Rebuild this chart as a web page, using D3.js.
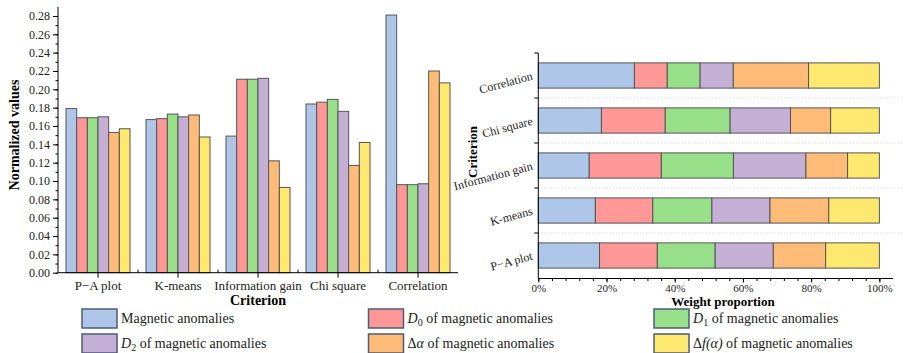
<!DOCTYPE html>
<html>
<head>
<meta charset="utf-8">
<script src="https://cdn.jsdelivr.net/npm/d3@7"></script>
<style>
  body { margin: 0; background: #fff; }
  svg { display: block; font-family: "Liberation Serif", "DejaVu Serif", serif; }
  svg text { font-family: "Liberation Serif", "DejaVu Serif", serif; }
</style>
</head>
<body>
<svg id="chart" width="904" height="353"></svg>
<script>
// data
var criteria = ["P\u2212A plot", "K-means", "Information gain", "Chi square", "Correlation"];
var magnetic = [0.179, 0.167, 0.149, 0.184, 0.281];
var d0       = [0.169, 0.168, 0.211, 0.186, 0.096];
var d1       = [0.169, 0.173, 0.211, 0.189, 0.096];
var d2       = [0.170, 0.170, 0.212, 0.176, 0.097];
var dAlpha   = [0.153, 0.172, 0.122, 0.117, 0.220];
var dfAlpha  = [0.157, 0.148, 0.093, 0.142, 0.207];
var yTicks = [0, 0.02, 0.04, 0.06, 0.08, 0.10, 0.12, 0.14, 0.16, 0.18, 0.20, 0.22, 0.24, 0.26, 0.28];
var pctTicks = [0, 0.2, 0.4, 0.6, 0.8, 1.0];

var seriesKeys = ["mag", "d0", "d1", "d2", "da", "dfa"];
var seriesVals = [magnetic, d0, d1, d2, dAlpha, dfAlpha];
var colours = ["#aec7e8", "#ff9896", "#98df8a", "#c5b0d5", "#ffbb78", "#fde96f"];

var rows = criteria.map(function (c, i) {
    var r = { crit: c };
    seriesKeys.forEach(function (k, j) { r[k] = seriesVals[j][i]; });
    return r;
});

var svg = d3.select("#chart");
var stroke = "#555";
var serif = "'Liberation Serif', 'DejaVu Serif', serif";

//
//**   Left: grouped bars   **/
//

var x0 = d3.scaleBand().domain(criteria).range([58, 458]).paddingInner(0.2).paddingOuter(0.1);
var x1 = d3.scaleBand().domain(seriesKeys).range([0, x0.bandwidth()]);
var y = d3.scaleLinear().domain([0, 0.29]).range([272.7, 6.8]);

var left = svg.append("g");

left.selectAll("g.grp")
    .data(rows)
  .enter().append("g")
    .attr("class", "grp")
    .attr("transform", function (d) { return "translate(" + x0(d.crit) + ",0)"; })
  .selectAll("rect")
    .data(function (d) { return seriesKeys.map(function (k, j) { return { k: k, v: d[k], c: colours[j] }; }); })
  .enter().append("rect")
    .attr("x", function (d) { return x1(d.k); })
    .attr("width", x1.bandwidth())
    .attr("y", function (d) { return y(d.v); })
    .attr("height", function (d) { return y(0) - y(d.v); })
    .attr("fill", function (d) { return d.c; })
    .attr("stroke", stroke)
    .attr("stroke-width", 1);

// y axis with minor ticks
var yMinor = d3.range(0, 0.29, 0.01);
left.append("g")
    .attr("transform", "translate(58,0)")
    .call(d3.axisLeft(y).tickValues(yMinor).tickSize(2.5).tickFormat(""))
    .call(function (g) { g.select(".domain").remove(); });

var gY = left.append("g")
    .attr("transform", "translate(58,0)")
    .call(d3.axisLeft(y).tickValues(yTicks).tickSize(5).tickPadding(3).tickFormat(d3.format(".2f")))
    .attr("font-family", serif);
gY.selectAll("text").style("font-size", "12px").style("fill", "#222");
gY.select(".domain").attr("d", "M0," + y(0.29) + "V" + y(0));

// x axis
var gX = left.append("g")
    .attr("transform", "translate(0," + y(0) + ")")
    .call(d3.axisBottom(x0).tickSize(5).tickPadding(3))
    .attr("font-family", serif);
gX.selectAll("text").style("font-size", "13px").style("fill", "#222");
gX.select(".domain").attr("d", "M58,0H458");

var bounds = criteria.slice(1).map(function (c) { return x0(c) - x0.step() * x0.paddingInner() / 2; });
left.selectAll("line.minor")
    .data(bounds)
  .enter().append("line")
    .attr("class", "minor")
    .attr("x1", function (d) { return d; })
    .attr("x2", function (d) { return d; })
    .attr("y1", y(0) - 3)
    .attr("y2", y(0))
    .attr("stroke", "#000");

left.append("text")
    .attr("transform", "translate(19,135) rotate(-90)")
    .style("text-anchor", "middle")
    .style("font-size", "14px")
    .style("font-weight", "bold")
    .text("Normalized values");

left.append("text")
    .attr("x", 258)
    .attr("y", 305)
    .style("text-anchor", "middle")
    .style("font-size", "14px")
    .style("font-weight", "bold")
    .text("Criterion");

//
//**   Right: stacked proportions   **/
//

var stacked = d3.stack().keys(seriesKeys).offset(d3.stackOffsetExpand)(rows);

var px = d3.scaleLinear().domain([0, 1.04]).range([538.3, 893]);
var py = d3.scaleBand().domain(criteria.slice().reverse()).range([53, 278]).paddingInner(0.44).paddingOuter(0.22);

var right = svg.append("g");

// dotted separators
var seps = criteria.slice(0, 4).map(function (c) { return py(c) - py.step() * py.paddingInner() / 2; });
right.selectAll("line.sep")
    .data(seps)
  .enter().append("line")
    .attr("class", "sep")
    .attr("x1", 538.3).attr("x2", 904)
    .attr("y1", function (d) { return d; })
    .attr("y2", function (d) { return d; })
    .attr("stroke", "#ccc")
    .attr("stroke-dasharray", "1,2");

right.selectAll("g.layer")
    .data(stacked)
  .enter().append("g")
    .attr("class", "layer")
    .attr("fill", function (d, i) { return colours[i]; })
  .selectAll("rect")
    .data(function (d) { return d; })
  .enter().append("rect")
    .attr("x", function (d) { return px(d[0]); })
    .attr("width", function (d) { return px(d[1]) - px(d[0]); })
    .attr("y", function (d) { return py(d.data.crit); })
    .attr("height", py.bandwidth())
    .attr("stroke", stroke)
    .attr("stroke-width", 1);

// x axis
right.append("g")
    .attr("transform", "translate(0,278.5)")
    .call(d3.axisBottom(px).tickValues(d3.range(0, 1.04, 0.04)).tickSize(2.5).tickFormat(""))
    .call(function (g) { g.select(".domain").remove(); });

var gPX = right.append("g")
    .attr("transform", "translate(0,278.5)")
    .call(d3.axisBottom(px).tickValues(pctTicks).tickSize(4).tickPadding(2).tickFormat(d3.format(".0%")))
    .attr("font-family", serif);
gPX.selectAll("text").style("font-size", "11px").style("fill", "#222");
gPX.select(".domain").attr("d", "M538.3,0H893");

// y axis
var gPY = right.append("g").attr("transform", "translate(538.3,0)");
gPY.append("line")
    .attr("x1", 0).attr("x2", 0)
    .attr("y1", 53).attr("y2", 278.5)
    .attr("stroke", "#000");
gPY.selectAll("line.tk")
    .data([53].concat(seps))
  .enter().append("line")
    .attr("class", "tk")
    .attr("x1", -4).attr("x2", 0)
    .attr("y1", function (d) { return d; })
    .attr("y2", function (d) { return d; })
    .attr("stroke", "#000");
gPY.selectAll("text")
    .data(criteria)
  .enter().append("text")
    .attr("transform", function (d) { return "translate(-5," + (py(d) + py.bandwidth() / 2 + 4) + ") rotate(-15)"; })
    .style("text-anchor", "end")
    .style("font-size", "12px")
    .style("fill", "#222")
    .text(function (d) { return d; });

right.append("text")
    .attr("transform", "translate(477,152) rotate(-90)")
    .style("text-anchor", "middle")
    .style("font-size", "13px")
    .style("font-weight", "bold")
    .text("Criterion");

right.append("text")
    .attr("x", 723)
    .attr("y", 306)
    .style("text-anchor", "middle")
    .style("font-size", "13px")
    .style("font-weight", "bold")
    .text("Weight proportion");

//
//**   Legend   **/
//

var legendItems = [
    { base: "Magnetic anomalies" },
    { sym: "D", sub: "0", rest: " of magnetic anomalies" },
    { sym: "D", sub: "1", rest: " of magnetic anomalies" },
    { sym: "D", sub: "2", rest: " of magnetic anomalies" },
    { delta: true, sym: "\u03b1", rest: " of magnetic anomalies" },
    { delta: true, sym: "f(\u03b1)", rest: " of magnetic anomalies" }
];
var colX = [82, 368.5, 654];
var rowY = [309, 334];

var leg = svg.append("g")
    .attr("font-family", serif)
    .selectAll("g")
    .data(legendItems)
  .enter().append("g")
    .attr("transform", function (d, i) { return "translate(" + colX[i % 3] + "," + rowY[Math.floor(i / 3)] + ")"; });

leg.append("rect")
    .attr("width", 35)
    .attr("height", 19)
    .attr("fill", function (d, i) { return colours[i]; })
    .attr("stroke", "#4d5b78")
    .attr("stroke-width", 1.5);

leg.append("text")
    .attr("x", 39)
    .attr("y", 14)
    .style("font-size", "14px")
    .style("fill", "#222")
    .each(function (d) {
        var t = d3.select(this);
        if (d.base) { t.text(d.base); return; }
        if (d.delta) t.append("tspan").text("\u0394");
        t.append("tspan").style("font-style", "italic").text(d.sym);
        if (d.sub) t.append("tspan").attr("dy", 3).style("font-size", "10px").text(d.sub);
        t.append("tspan").attr("dy", d.sub ? -3 : 0).text(d.rest);
    });
</script>
</body>
</html>
